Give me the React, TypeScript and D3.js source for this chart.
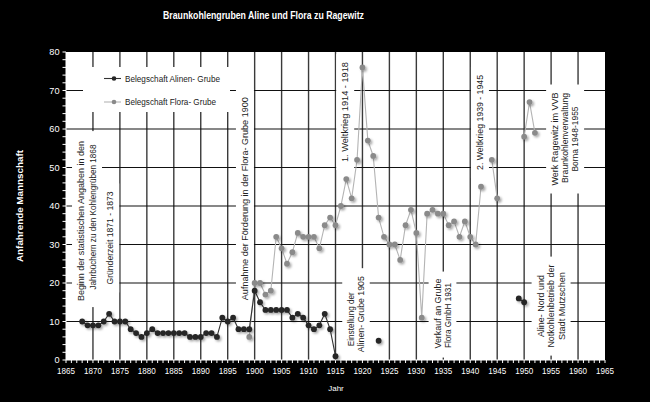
import React, { useEffect, useRef } from "react";
import * as d3 from "d3";

const W = 650;
const H = 402;

const titleText = "Braunkohlengruben Aline und Flora zu Ragewitz";
const yAxisTitle = "Anfahrende Mannschaft";
const xAxisTitle = "Jahr";

const xTickLabels = [1865, 1870, 1875, 1880, 1885, 1890, 1895, 1900, 1905, 1910, 1915, 1920, 1925, 1930, 1935, 1940, 1945, 1950, 1955, 1960, 1965];
const yTickLabels = [0, 10, 20, 30, 40, 50, 60, 70, 80];

const alineYears = [
  1868, 1869, 1870, 1871, 1872, 1873, 1874, 1875, 1876, 1877, 1878, 1879, 1880, 1881, 1882, 1883, 1884, 1885, 1886, 1887,
  1888, 1889, 1890, 1891, 1892, 1893, 1894, 1895, 1896, 1897, 1898, 1899, 1900, 1901, 1902, 1903, 1904, 1905, 1906, 1907,
  1908, 1909, 1910, 1911, 1912, 1913, 1914, 1915, 1923, 1949, 1950,
];
const alineValues = [
  10, 9, 9, 9, 10, 12, 10, 10, 10, 8, 7, 6, 7, 8, 7, 7, 7, 7, 7, 7,
  6, 6, 6, 7, 7, 6, 11, 10, 11, 8, 8, 8, 18, 15, 13, 13, 13, 13, 13, 11,
  12, 11, 9, 8, 9, 12, 8, 1, 5, 16, 15,
];

const floraYears = [
  1899, 1900, 1901, 1902, 1903, 1904, 1905, 1906, 1907, 1908, 1909, 1910, 1911, 1912, 1913, 1914, 1915, 1916, 1917, 1918,
  1919, 1920, 1921, 1922, 1923, 1924, 1925, 1926, 1927, 1928, 1929, 1930, 1931, 1932, 1933, 1934, 1935, 1936, 1937, 1938,
  1939, 1940, 1941, 1942, 1944, 1945, 1950, 1951, 1952,
];
const floraValues = [
  6, 20, 20, 17, 18, 32, 29, 25, 28, 33, 32, 32, 32, 29, 35, 37, 35, 40, 47, 42,
  52, 76, 57, 53, 37, 32, 30, 30, 26, 35, 39, 33, 11, 38, 39, 38, 38, 35, 36, 32,
  36, 32, 30, 45, 52, 42, 58, 67, 59,
];

const legendLabels = ["Belegschaft Alinen- Grube", "Belegschaft Flora- Grube"];

// annotations: center year / center value, line texts, target lengths, per-line shift along text (px, + = up)
const annotations = [
  { year: 1868.9, value: 36.6, gap: 12, lines: ["Beginn der statistischen Angaben in den", "Jahrbüchern  zu den Kohlengrüben 1868"], lens: [160, 145], shift: [-2, 2] },
  { year: 1873.2, value: 31.7, gap: 11, lines: ["Gründerzeit 1871 - 1873"], lens: [93], shift: [0] },
  { year: 1898.2, value: 41.9, gap: 11, lines: ["Aufnahme  der Förderung in der Flora- Grube 1900"], lens: [203], shift: [0] },
  { year: 1916.8, value: 64.4, gap: 11, lines: ["1. Weltkrieg 1914 - 1918"], lens: [100], shift: [0] },
  { year: 1918.8, value: 11.9, gap: 9.5, lines: ["Einstellung  der", "Alinen- Grube 1905"], lens: [54, 76], shift: [-5, 0] },
  { year: 1934.85, value: 11.8, gap: 9.8, lines: ["Verkauf an Grube", "Flora GmbH 1931"], lens: [70, 65], shift: [1, -1] },
  { year: 1941.8, value: 61.7, gap: 11, lines: ["2. Weltkrieg 1939 - 1945"], lens: [95], shift: [0] },
  { year: 1957.6, value: 57.4, gap: 10, lines: ["Werk Ragewitz im VVB", "Braunkohlenverwaltung", "Borna 1948-1955"], lens: [93, 90, 65], shift: [0, 1, 0] },
  { year: 1955.0, value: 14.0, gap: 10.5, lines: ["Aline- Nord und", "Notkohlenbetrieb der", "Stadt Mutzschen"], lens: [62, 83, 68], shift: [0, 0, 0] },
];

const FONT = "'Liberation Sans', Arial, sans-serif";

function segments(years: number[], values: number[]) {
  const segs: [number, number][][] = [];
  let cur: [number, number][] = [];
  years.forEach((yr, i) => {
    if (cur.length && yr - cur[cur.length - 1][0] !== 1) {
      segs.push(cur);
      cur = [];
    }
    cur.push([yr, values[i]]);
  });
  if (cur.length) segs.push(cur);
  return segs;
}

export default function App() {
  const ref = useRef<SVGSVGElement>(null);

  useEffect(() => {
    const svg = d3.select(ref.current);
    svg.selectAll("*").remove();

    const left = 66, right = 605, top = 52, bottom = 360;
    const x = d3.scaleLinear().domain([1865, 1965]).range([left, right]);
    const y = d3.scaleLinear().domain([0, 80]).range([bottom, top]);

    const defs = svg.append("defs");
    const f = defs.append("filter").attr("id", "sh").attr("x", "-60%").attr("y", "-60%").attr("width", "220%").attr("height", "220%");
    f.append("feDropShadow").attr("dx", 1.6).attr("dy", 1.6).attr("stdDeviation", 0.9).attr("flood-color", "#000").attr("flood-opacity", 0.35);

    svg.append("rect").attr("width", W).attr("height", H).attr("fill", "#000");
    svg.append("rect").attr("x", left).attr("y", top).attr("width", right - left).attr("height", bottom - top).attr("fill", "#fff");

    // grid
    const grid = svg.append("g");
    xTickLabels.filter((v) => v > 1865 && v < 1965).forEach((v) => {
      grid.append("line").attr("x1", x(v)).attr("x2", x(v)).attr("y1", top).attr("y2", bottom).attr("stroke", "#3a3a3a").attr("stroke-width", 1.4);
    });
    yTickLabels.filter((v) => v > 0 && v < 80).forEach((v) => {
      grid.append("line").attr("x1", left).attr("x2", right).attr("y1", y(v)).attr("y2", y(v)).attr("stroke", "#111").attr("stroke-width", 1.2);
    });

    // axes ticks
    const ax = svg.append("g").attr("stroke", "#fff").attr("stroke-width", 1);
    d3.range(0, 81, 2).forEach((v) => {
      ax.append("line").attr("x1", left - 3.5).attr("x2", left).attr("y1", y(v)).attr("y2", y(v));
    });
    d3.range(1865, 1966, 1).forEach((v) => {
      ax.append("line").attr("x1", x(v)).attr("x2", x(v)).attr("y1", bottom).attr("y2", bottom + 3);
    });
    ax.append("line").attr("x1", left).attr("x2", left).attr("y1", top).attr("y2", bottom);
    ax.append("line").attr("x1", left).attr("x2", right).attr("y1", bottom).attr("y2", bottom);

    const lab = svg.append("g").attr("fill", "#fff").attr("font-family", FONT).attr("font-size", 9.2);
    yTickLabels.forEach((v) => {
      lab.append("text").attr("x", left - 6.5).attr("y", y(v)).attr("dy", "0.35em").attr("text-anchor", "end").text(v);
    });
    xTickLabels.forEach((v) => {
      lab.append("text").attr("x", x(v)).attr("y", bottom + 13.5).attr("text-anchor", "middle")
        .attr("textLength", 18).attr("lengthAdjust", "spacingAndGlyphs").text(v);
    });

    // titles
    svg.append("text").attr("x", 263.5).attr("y", 19).attr("text-anchor", "middle").attr("fill", "#fff")
      .attr("font-family", FONT).attr("font-size", 10.5).attr("font-weight", "bold")
      .attr("textLength", 201).attr("lengthAdjust", "spacingAndGlyphs").text(titleText);
    svg.append("text").attr("transform", "translate(20,206) rotate(-90)").attr("text-anchor", "middle").attr("dy", "0.35em")
      .attr("fill", "#fff").attr("font-family", FONT).attr("font-size", 8.5).attr("font-weight", "bold")
      .attr("textLength", 112).attr("lengthAdjust", "spacingAndGlyphs").text(yAxisTitle);
    svg.append("text").attr("x", 336).attr("y", 391).attr("text-anchor", "middle").attr("fill", "#fff")
      .attr("font-family", FONT).attr("font-size", 8).text(xAxisTitle);

    // legend box
    svg.append("rect").attr("x", 83).attr("y", 67).attr("width", 147).attr("height", 45).attr("fill", "#fff");

    // annotations
    annotations.forEach((a) => {
      const g = svg.append("g").attr("transform", `translate(${x(a.year)},${y(a.value)}) rotate(-90)`);
      const n = a.lines.length;
      const tg = g.append("g");
      a.lines.forEach((t, i) => {
        tg.append("text").attr("x", a.shift[i]).attr("y", (i - (n - 1) / 2) * a.gap).attr("dy", "0.35em")
          .attr("text-anchor", "middle").attr("fill", "#222").attr("font-family", FONT).attr("font-size", 9.3)
          .attr("textLength", a.lens[i]).attr("lengthAdjust", "spacingAndGlyphs").text(t);
      });
      const maxLen = Math.max(...a.lens);
      const padAlong = 8, padAcross = 4;
      const acrossHalf = ((n - 1) / 2) * a.gap + 5;
      g.insert("rect", "g").attr("x", -maxLen / 2 - padAlong).attr("y", -acrossHalf - padAcross)
        .attr("width", maxLen + 2 * padAlong).attr("height", 2 * acrossHalf + 2 * padAcross).attr("fill", "#fff");
    });

    // data
    const line = d3.line<[number, number]>().x((d) => x(d[0])).y((d) => y(d[1]));
    const dataG = svg.append("g");
    const series = [
      { years: floraYears, values: floraValues, stroke: "#b4b4b4", fill: "#8a8a8a" },
      { years: alineYears, values: alineValues, stroke: "#333", fill: "#252525" },
    ];
    series.forEach((s) => {
      segments(s.years, s.values).forEach((seg) => {
        if (seg.length > 1) {
          dataG.append("path").attr("d", line(seg)).attr("fill", "none").attr("stroke", s.stroke).attr("stroke-width", 1.1);
        }
      });
      s.years.forEach((yr, i) => {
        dataG.append("circle").attr("cx", x(yr)).attr("cy", y(s.values[i])).attr("r", 2.9)
          .attr("fill", s.fill).attr("filter", "url(#sh)");
      });
    });

    // legend
    const lg = svg.append("g");
    const legendStyles = [
      { stroke: "#333", fill: "#252525", yy: 78.5, len: 95 },
      { stroke: "#b4b4b4", fill: "#8a8a8a", yy: 102, len: 91 },
    ];
    legendLabels.forEach((t, i) => {
      const st = legendStyles[i];
      lg.append("line").attr("x1", 104).attr("x2", 121).attr("y1", st.yy).attr("y2", st.yy).attr("stroke", st.stroke).attr("stroke-width", 1.1);
      lg.append("circle").attr("cx", 114).attr("cy", st.yy).attr("r", 2.3).attr("fill", st.fill);
      lg.append("text").attr("x", 125).attr("y", st.yy).attr("dy", "0.35em").attr("fill", "#222")
        .attr("font-family", FONT).attr("font-size", 9.2).attr("textLength", st.len).attr("lengthAdjust", "spacingAndGlyphs").text(t);
    });
  }, []);

  return (
    <svg ref={ref} width={W} height={H} style={{ position: "fixed", left: 0, top: 0, display: "block" }} />
  );
}
